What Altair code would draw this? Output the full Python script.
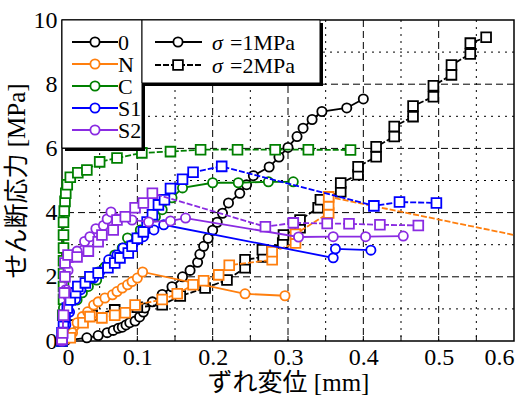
import altair as alt
import pandas as pd

# ---------------- data ----------------
series_names = ["0", "N", "C", "S1", "S2"]
series_colors = ["#000000", "#ff7f0e", "#008000", "#0000ff", "#8a2be2"]
sigma_names = ["σ =1MPa", "σ =2MPa"]

x_0_s1 = [0.005, 0.033, 0.048, 0.06, 0.068, 0.075, 0.08, 0.085, 0.09, 0.097, 0.103, 0.108, 0.11, 0.12, 0.133,
          0.146, 0.16, 0.17, 0.18, 0.183, 0.188, 0.194, 0.2, 0.206, 0.213, 0.221, 0.236, 0.245, 0.254, 0.275,
          0.288, 0.3, 0.312, 0.32, 0.332, 0.345, 0.378, 0.4]
y_0_s1 = [0.02, 0.1, 0.17, 0.26, 0.33, 0.4, 0.43, 0.5, 0.57, 0.62, 0.75, 0.9, 1.03, 1.22, 1.45,
          1.69, 2.0, 2.2, 2.45, 2.7, 2.95, 3.2, 3.45, 3.7, 3.98, 4.3, 4.6, 4.87, 5.15, 5.42,
          5.73, 6.03, 6.37, 6.63, 6.9, 7.15, 7.26, 7.54]

x_0_s2 = [0.0, 0.01, 0.04, 0.07, 0.1, 0.133, 0.157, 0.19, 0.219, 0.243, 0.243, 0.267, 0.266, 0.293, 0.294,
          0.316, 0.316, 0.34, 0.343, 0.37, 0.37, 0.393, 0.393, 0.417, 0.417, 0.441, 0.441, 0.466, 0.466,
          0.493, 0.493, 0.517, 0.517, 0.542, 0.542, 0.563]
y_0_s2 = [0.0, 0.5, 0.8, 0.97, 1.05, 1.13, 1.4, 1.65, 1.9, 2.28, 2.53, 2.62, 2.84, 3.05, 3.3,
          3.53, 3.77, 4.15, 4.4, 4.65, 4.92, 5.18, 5.43, 5.74, 6.05, 6.37, 6.68, 6.99, 7.32,
          7.61, 7.95, 8.29, 8.6, 8.94, 9.28, 9.46]

x_N_s1 = [0.005, 0.014, 0.02, 0.027, 0.034, 0.042, 0.048, 0.057, 0.067, 0.073, 0.08, 0.087, 0.093, 0.1,
          0.107, 0.243, 0.296]
y_N_s1 = [0.05, 0.26, 0.57, 0.76, 0.91, 1.12, 1.22, 1.34, 1.44, 1.54, 1.65, 1.75, 1.85, 1.96,
          2.15, 1.47, 1.41]

x_N_s2 = [0.011, 0.028, 0.037, 0.053, 0.07, 0.084, 0.097, 0.133, 0.153, 0.174, 0.188, 0.208, 0.222,
          0.279, 0.279, 0.31, 0.31, 0.354, 0.354, 0.354, 0.7]
y_N_s2 = [0.1, 0.57, 0.76, 0.72, 0.8, 0.88, 1.12, 1.29, 1.47, 1.75, 1.88, 2.06, 2.36,
          2.53, 2.78, 3.05, 3.33, 3.99, 4.24, 4.49, 2.82]

x_C_s1 = [0.0, 0.002, 0.02, 0.027, 0.035, 0.046, 0.048, 0.057, 0.07, 0.07, 0.08, 0.087, 0.104, 0.113,
          0.124, 0.133, 0.146, 0.16, 0.2, 0.234, 0.274, 0.307]
y_C_s1 = [0.0, 1.03, 1.28, 1.5, 1.7, 1.9, 2.15, 2.31, 2.43, 2.68, 2.9, 3.21, 3.46, 3.68,
          3.87, 4.09, 4.46, 4.77, 4.93, 4.93, 4.96, 4.96]

x_C_s2 = [0.0, 0.001, 0.002, 0.002, 0.002, 0.002, 0.002, 0.002, 0.002, 0.003, 0.004, 0.005, 0.007,
          0.011, 0.021, 0.033, 0.05, 0.073, 0.106, 0.144, 0.184, 0.233, 0.283, 0.327, 0.383]
y_C_s2 = [0.0, 0.8, 1.3, 1.7, 2.1, 2.5, 2.9, 3.3, 3.7, 4.05, 4.35, 4.6, 4.87,
          5.1, 5.24, 5.33, 5.58, 5.7, 5.86, 5.9, 5.96, 5.96, 5.96, 5.96, 5.95]

x_S1_s1 = [0.0, 0.005, 0.01, 0.018, 0.025, 0.031, 0.042, 0.05, 0.06, 0.062, 0.073, 0.081, 0.093, 0.1,
           0.108, 0.122, 0.135, 0.36, 0.363, 0.41]
y_S1_s1 = [0.0, 0.5, 0.9, 1.3, 1.6, 1.81, 1.96, 2.15, 2.31, 2.53, 2.68, 2.9, 3.0, 3.15,
           3.25, 3.46, 3.62, 2.59, 2.87, 2.83]

x_S1_s2 = [0.0, 0.0, 0.002, 0.004, 0.007, 0.011, 0.018, 0.021, 0.031, 0.037, 0.048, 0.061, 0.07, 0.077,
           0.088, 0.093, 0.1, 0.108, 0.113, 0.12, 0.128, 0.136, 0.144, 0.16, 0.174, 0.212, 0.414,
           0.448, 0.497]
y_S1_s2 = [0.0, 0.26, 0.57, 0.76, 1.03, 1.28, 1.5, 1.7, 1.81, 2.0, 2.12, 2.28, 2.43, 2.59,
           2.74, 2.95, 3.2, 3.4, 3.71, 3.93, 4.24, 4.4, 4.75, 5.04, 5.26, 5.44, 4.21,
           4.33, 4.3]

x_S2_s1 = [0.0, 0.002, 0.005, 0.008, 0.012, 0.02, 0.03, 0.037, 0.045, 0.055, 0.06, 0.065, 0.093, 0.115,
           0.144, 0.164, 0.314, 0.36, 0.403, 0.453]
y_S2_s1 = [0.0, 0.8, 1.6, 2.2, 2.6, 2.8, 3.1, 3.25, 3.5, 3.6, 3.8, 4.02, 3.77, 3.71,
           3.74, 3.83, 3.24, 3.25, 3.25, 3.27]

x_S2_s2 = [0.0, 0.001, 0.002, 0.003, 0.004, 0.004, 0.008, 0.02, 0.035, 0.048, 0.053, 0.068, 0.073, 0.084,
           0.097, 0.108, 0.12, 0.27, 0.307, 0.352, 0.381, 0.422, 0.473]
y_S2_s2 = [0.05, 0.25, 0.8, 1.5, 2.0, 2.43, 2.68, 2.62, 2.8, 3.09, 3.3, 3.46, 3.77, 3.87,
           4.15, 4.3, 4.6, 3.56, 3.68, 3.66, 3.65, 3.62, 3.6]

curves = {
    ("0", 1): (x_0_s1, y_0_s1), ("0", 2): (x_0_s2, y_0_s2),
    ("N", 1): (x_N_s1, y_N_s1), ("N", 2): (x_N_s2, y_N_s2),
    ("C", 1): (x_C_s1, y_C_s1), ("C", 2): (x_C_s2, y_C_s2),
    ("S1", 1): (x_S1_s1, y_S1_s1), ("S1", 2): (x_S1_s2, y_S1_s2),
    ("S2", 1): (x_S2_s1, y_S2_s1), ("S2", 2): (x_S2_s2, y_S2_s2),
}

x_major = [0.1, 0.2, 0.3, 0.4, 0.5]
x_minor = [0.05, 0.15, 0.25, 0.35, 0.45, 0.55]
y_major = [2, 4, 6, 8]
y_minor = [1, 3, 5, 7, 9]
x_ticks = [0.0, 0.1, 0.2, 0.3, 0.4, 0.5, 0.6]
y_ticks = [0, 2, 4, 6, 8, 10]

# ---------------- layout ----------------
W, H = 452, 321
SERIF = "Liberation Serif"
TITLE_FONT = "Liberation Serif, Noto Sans CJK JP"
DASH2 = [6, 2]
CSIZE, SSIZE = 85, 95

xscale = alt.Scale(domain=[0, 0.6], nice=False, zero=False)
yscale = alt.Scale(domain=[0, 10], nice=False, zero=False)

xaxis = alt.Axis(values=x_ticks, title="ずれ変位 [mm]",
                 labelExpr="datum.value == 0 ? '0' : format(datum.value, '.1f')",
                 grid=False, ticks=False, domain=False, labelPadding=4, titlePadding=1,
                 labelFont=SERIF, labelFontSize=24, labelColor="black",
                 titleFont=TITLE_FONT, titleFontSize=25, titleFontWeight="normal", titleColor="black")
yaxis = alt.Axis(values=y_ticks, title="せん断応力 [MPa]", grid=False, ticks=False, domain=False,
                 labelPadding=5, titlePadding=4,
                 labelFont=SERIF, labelFontSize=24, labelColor="black",
                 titleFont=TITLE_FONT, titleFontSize=25, titleFontWeight="normal", titleColor="black")

X = alt.X("x:Q", scale=xscale, axis=xaxis)
Y = alt.Y("y:Q", scale=yscale, axis=yaxis)

layers = []

# grid lines
gx = pd.DataFrame({"x": x_major})
gxm = pd.DataFrame({"x": x_minor})
gy = pd.DataFrame({"y": y_major})
gym = pd.DataFrame({"y": y_minor})
layers.append(alt.Chart(gx).mark_rule(color="black", strokeWidth=1, strokeDash=[7, 4]).encode(x=X))
layers.append(alt.Chart(gxm).mark_rule(color="black", strokeWidth=1, strokeDash=[2, 5]).encode(x=X))
layers.append(alt.Chart(gy).mark_rule(color="black", strokeWidth=1, strokeDash=[7, 4]).encode(y=Y))
layers.append(alt.Chart(gym).mark_rule(color="black", strokeWidth=1, strokeDash=[2, 5]).encode(y=Y))

# small inner ticks
tx = pd.DataFrame({"x": x_major + x_minor})
ty = pd.DataFrame({"y": y_major + y_minor})
layers.append(alt.Chart(tx).mark_rule(color="black", strokeWidth=1).encode(
    x=X, y=alt.value(H), y2=alt.value(H - 5)))
layers.append(alt.Chart(ty).mark_rule(color="black", strokeWidth=1).encode(
    y=Y, x=alt.value(0), x2=alt.value(5)))

# data curves
for name, color in zip(series_names, series_colors):
    for sig in (1, 2):
        xs, ys = curves[(name, sig)]
        df = pd.DataFrame({"x": xs, "y": ys, "i": list(range(len(xs)))})
        line_kw = dict(color=color, strokeWidth=1.8, clip=True)
        if sig == 2:
            line_kw["strokeDash"] = DASH2
        layers.append(alt.Chart(df).mark_line(**line_kw).encode(x=X, y=Y, order="i:Q"))
        pt = alt.Chart(df[df["x"] <= 0.6]).mark_point(
            shape="circle" if sig == 1 else "square",
            size=CSIZE if sig == 1 else SSIZE,
            filled=False, fill="white", fillOpacity=1, stroke=color, strokeWidth=1.8, opacity=1,
        ).encode(x=X, y=Y)
        layers.append(pt)

# ---------------- legends (drawn inside plot, top-left) ----------------
one = pd.DataFrame({"a": [0]})
# left box
layers.append(alt.Chart(one).mark_rect(color="black").encode(
    x=alt.value(3), x2=alt.value(83), y=alt.value(3), y2=alt.value(131)))
layers.append(alt.Chart(one).mark_rect(fill="white", stroke="black", strokeWidth=1).encode(
    x=alt.value(0), x2=alt.value(80), y=alt.value(0), y2=alt.value(128)))
# right box
layers.append(alt.Chart(one).mark_rect(color="black").encode(
    x=alt.value(83), x2=alt.value(261), y=alt.value(3), y2=alt.value(66)))
layers.append(alt.Chart(one).mark_rect(fill="white", stroke="black", strokeWidth=1).encode(
    x=alt.value(80), x2=alt.value(258), y=alt.value(0), y2=alt.value(63)))

for k, (name, color) in enumerate(zip(series_names, series_colors)):
    ypix = 22 + k * 22
    row = pd.DataFrame({"t": [name]})
    layers.append(alt.Chart(row).mark_rule(color=color, strokeWidth=1.8).encode(
        x=alt.value(10), x2=alt.value(56), y=alt.value(ypix)))
    layers.append(alt.Chart(row).mark_point(shape="circle", size=CSIZE, filled=False, fill="white",
                                            fillOpacity=1, stroke=color, strokeWidth=1.8, opacity=1).encode(
        x=alt.value(33), y=alt.value(ypix)))
    layers.append(alt.Chart(row).mark_text(align="left", baseline="middle", font=SERIF, fontSize=22,
                                           color="black", dy=1).encode(
        x=alt.value(56), y=alt.value(ypix), text="t:N"))

for k, lab in enumerate(sigma_names):
    ypix = 22 + k * 23
    row = pd.DataFrame({"sym": [lab.split(" ")[0]], "rest": [lab.split(" ")[1]]})
    rule_kw = dict(color="black", strokeWidth=1.8)
    if k == 1:
        rule_kw["strokeDash"] = DASH2
    layers.append(alt.Chart(row).mark_rule(**rule_kw).encode(
        x=alt.value(93), x2=alt.value(140), y=alt.value(ypix)))
    layers.append(alt.Chart(row).mark_point(shape="circle" if k == 0 else "square",
                                            size=CSIZE if k == 0 else SSIZE, filled=False, fill="white",
                                            fillOpacity=1, stroke="black", strokeWidth=1.8, opacity=1).encode(
        x=alt.value(116), y=alt.value(ypix)))
    layers.append(alt.Chart(row).mark_text(align="left", baseline="middle", font=SERIF, fontSize=22,
                                           fontStyle="italic", color="black", dy=1).encode(
        x=alt.value(150), y=alt.value(ypix), text="sym:N"))
    layers.append(alt.Chart(row).mark_text(align="left", baseline="middle", font=SERIF, fontSize=22,
                                           color="black", dy=1).encode(
        x=alt.value(168), y=alt.value(ypix), text="rest:N"))

chart = alt.layer(*layers).properties(
    width=W, height=H,
    autosize=alt.AutoSizeParams(type="none"),
    padding={"left": 62, "top": 20, "right": 18, "bottom": 64},
    background="white",
).configure_view(
    stroke="black", strokeWidth=1.5
)

chart.save("out.html", embed_options={"renderer": "svg", "actions": False})
